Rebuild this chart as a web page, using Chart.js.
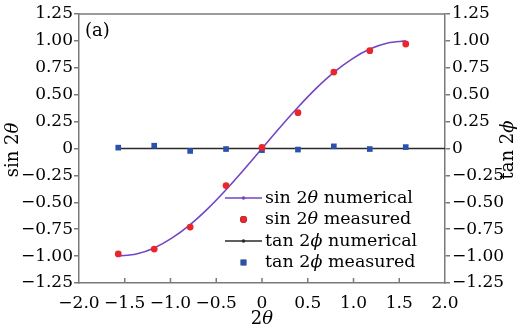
<!DOCTYPE html>
<html>
<head>
<meta charset="utf-8">
<script src="https://cdn.jsdelivr.net/npm/chart.js@4/dist/chart.umd.min.js"></script>
<style>
  html, body { margin: 0; padding: 0; background: #fff; }
  canvas { display: block; }
</style>
</head>
<body>
<canvas id="chart" width="520" height="330"></canvas>
<script>
// 目盛りラベル
const xTickLabels = ['−2.0', '−1.5', '−1.0', '−0.5', '0', '0.5', '1.0', '1.5', '2.0'];
const yTickLabels = ['−1.25', '−1.00', '−0.75', '−0.50', '−0.25', '0', '0.25', '0.50', '0.75', '1.00', '1.25'];

// sin 2θ 数値計算（曲線）
const sinNumX = [-1.571, -1.374, -1.178, -0.982, -0.785, -0.589, -0.393, -0.196, 0,
                 0.196, 0.393, 0.589, 0.785, 0.982, 1.178, 1.374, 1.571];
const sinNumY = [-1.000, -0.981, -0.924, -0.831, -0.707, -0.556, -0.383, -0.195, 0,
                 0.195, 0.383, 0.556, 0.707, 0.831, 0.924, 0.981, 1.000];

// 測定点のx座標
const measX = [-1.571, -1.178, -0.785, -0.393, 0, 0.393, 0.785, 1.178, 1.571];
// sin 2θ 測定値
const sinMeas = [-0.98, -0.935, -0.73, -0.345, 0.01, 0.333, 0.71, 0.909, 0.971];
// tan 2φ 測定値
const tanMeas = [0.008, 0.026, -0.023, -0.005, -0.015, -0.01, 0.02, -0.005, 0.013];

// tan 2φ 数値計算（直線）
const tanNumX = [-1.571, 2.0];
const tanNumY = [0, 0];

const toPts = (xs, ys) => xs.map((x, i) => ({ x: x, y: ys[i] }));

const FONT = 'DejaVu Serif';
const TEXT = '#000';
const AXIS = '#7a7a7a';

// 斜体を含むテキストを描画
function drawRich(ctx, parts, x, y, size, align) {
    let w = 0;
    parts.forEach(p => {
        ctx.font = (p[1] ? 'italic ' : '') + size + 'px "' + FONT + '"';
        w += ctx.measureText(p[0]).width;
    });
    let cx = align === 'center' ? x - w / 2 : x;
    ctx.textAlign = 'left';
    ctx.textBaseline = 'middle';
    parts.forEach(p => {
        ctx.font = (p[1] ? 'italic ' : '') + size + 'px "' + FONT + '"';
        ctx.fillText(p[0], cx, y);
        cx += ctx.measureText(p[0]).width;
    });
}

// 枠・内向き目盛り・軸タイトル・凡例
const decorPlugin = {
    id: 'decor',
    afterDraw(chart) {
        const ctx = chart.ctx;
        const a = chart.chartArea;
        const xs = chart.scales.x;
        ctx.save();
        ctx.strokeStyle = AXIS;
        ctx.lineWidth = 1.5;
        // 上枠
        ctx.beginPath();
        ctx.moveTo(a.left, a.top);
        ctx.lineTo(a.right, a.top);
        ctx.stroke();
        // x軸の内向き目盛り
        xs.ticks.forEach((t, i) => {
            if (i === 0 || i === xs.ticks.length - 1) return;
            const px = xs.getPixelForValue(t.value);
            ctx.beginPath();
            ctx.moveTo(px, a.bottom);
            ctx.lineTo(px, a.bottom - 5);
            ctx.stroke();
        });

        ctx.fillStyle = TEXT;
        // x軸タイトル
        drawRich(ctx, [['2', false], ['θ', true]], (a.left + a.right) / 2, 319, 18, 'center');
        // 左y軸タイトル
        ctx.save();
        ctx.translate(13, 150);
        ctx.rotate(-Math.PI / 2);
        drawRich(ctx, [['sin 2', false], ['θ', true]], 0, 0, 18, 'center');
        ctx.restore();
        // 右y軸タイトル
        ctx.save();
        ctx.translate(508, 150);
        ctx.rotate(-Math.PI / 2);
        drawRich(ctx, [['tan 2', false], ['ϕ', true]], 0, 0, 18, 'center');
        ctx.restore();

        // パネル記号
        drawRich(ctx, [['(a)', false]], a.left + 6, 31, 18, 'left');

        // 凡例
        const items = [
            { ds: 0, kind: 'line', parts: [['sin 2', false], ['θ', true], [' numerical', false]] },
            { ds: 1, kind: 'point', parts: [['sin 2', false], ['θ', true], [' measured', false]] },
            { ds: 2, kind: 'line', parts: [['tan 2', false], ['ϕ', true], [' numerical', false]] },
            { ds: 3, kind: 'point', parts: [['tan 2', false], ['ϕ', true], [' measured', false]] },
        ];
        items.forEach((it, i) => {
            const ds = chart.data.datasets[it.ds];
            const y = 198 + i * 21.5;
            if (it.kind === 'line') {
                ctx.strokeStyle = ds.borderColor;
                ctx.lineWidth = ds.borderWidth;
                ctx.beginPath();
                ctx.moveTo(225, y);
                ctx.lineTo(262, y);
                ctx.stroke();
                ctx.fillStyle = ds.borderColor;
                ctx.beginPath();
                ctx.arc(243.5, y, 1.8, 0, Math.PI * 2);
                ctx.fill();
            } else {
                Chart.helpers.drawPoint(ctx, {
                    pointStyle: ds.pointStyle,
                    radius: ds.pointRadius,
                    borderWidth: 0,
                    rotation: 0,
                }, 243.5, y);
                ctx.fillStyle = ds.backgroundColor;
                ctx.fill();
            }
            ctx.fillStyle = TEXT;
            drawRich(ctx, it.parts, 265, y, 17.5, 'left');
        });
        ctx.restore();
    },
};

const tickFont = { family: FONT, size: 17 };

new Chart(document.getElementById('chart').getContext('2d'), {
    type: 'scatter',
    data: {
        datasets: [
            // sin 2θ 数値計算
            {
                label: 'sin 2θ numerical',
                data: toPts(sinNumX, sinNumY),
                showLine: true,
                borderColor: '#7346c6',
                backgroundColor: '#7346c6',
                borderWidth: 1.6,
                pointRadius: 0,
                cubicInterpolationMode: 'monotone',
                yAxisID: 'y',
                order: 3,
            },
            // sin 2θ 測定値
            {
                label: 'sin 2θ measured',
                data: toPts(measX, sinMeas),
                pointStyle: 'circle',
                pointRadius: 3.4,
                borderWidth: 0,
                backgroundColor: '#e8262c',
                borderColor: '#e8262c',
                yAxisID: 'y',
                order: 1,
            },
            // tan 2φ 数値計算
            {
                label: 'tan 2φ numerical',
                data: toPts(tanNumX, tanNumY),
                showLine: true,
                borderColor: '#2a2a2a',
                backgroundColor: '#2a2a2a',
                borderWidth: 1.6,
                pointRadius: 0,
                yAxisID: 'y2',
                order: 4,
            },
            // tan 2φ 測定値
            {
                label: 'tan 2φ measured',
                data: toPts(measX, tanMeas),
                pointStyle: 'rect',
                pointRadius: 4,
                borderWidth: 0,
                backgroundColor: '#2a52ad',
                borderColor: '#2a52ad',
                yAxisID: 'y2',
                order: 2,
            },
        ],
    },
    options: {
        responsive: false,
        animation: false,
        devicePixelRatio: 1,
        layout: { padding: { top: 14, left: 0, right: 0, bottom: 0 } },
        plugins: {
            legend: { display: false },
            tooltip: { enabled: false },
        },
        scales: {
            x: {
                type: 'linear',
                min: -2,
                max: 2,
                afterFit: (s) => { s.height = 47; },
                grid: { display: false },
                border: { display: true, color: AXIS, width: 1.5 },
                ticks: {
                    stepSize: 0.5,
                    font: tickFont,
                    color: TEXT,
                    padding: 2,
                    maxRotation: 0,
                    callback: (v, i) => xTickLabels[i],
                },
            },
            y: {
                type: 'linear',
                position: 'left',
                min: -1.25,
                max: 1.25,
                afterFit: (s) => { s.width = 79; },
                grid: { drawOnChartArea: false, drawTicks: true, tickLength: 5, color: AXIS, lineWidth: 1.5 },
                border: { display: true, color: AXIS, width: 1.5 },
                ticks: {
                    stepSize: 0.25,
                    font: tickFont,
                    color: TEXT,
                    padding: 1,
                    callback: (v, i) => yTickLabels[i],
                },
            },
            y2: {
                type: 'linear',
                position: 'right',
                min: -1.25,
                max: 1.25,
                afterFit: (s) => { s.width = 75; },
                grid: { drawOnChartArea: false, drawTicks: true, tickLength: 5, color: AXIS, lineWidth: 1.5 },
                border: { display: true, color: AXIS, width: 1.5 },
                ticks: {
                    stepSize: 0.25,
                    font: tickFont,
                    color: TEXT,
                    padding: 2,
                    callback: (v, i) => yTickLabels[i],
                },
            },
        },
    },
    plugins: [decorPlugin],
});
</script>
</body>
</html>
